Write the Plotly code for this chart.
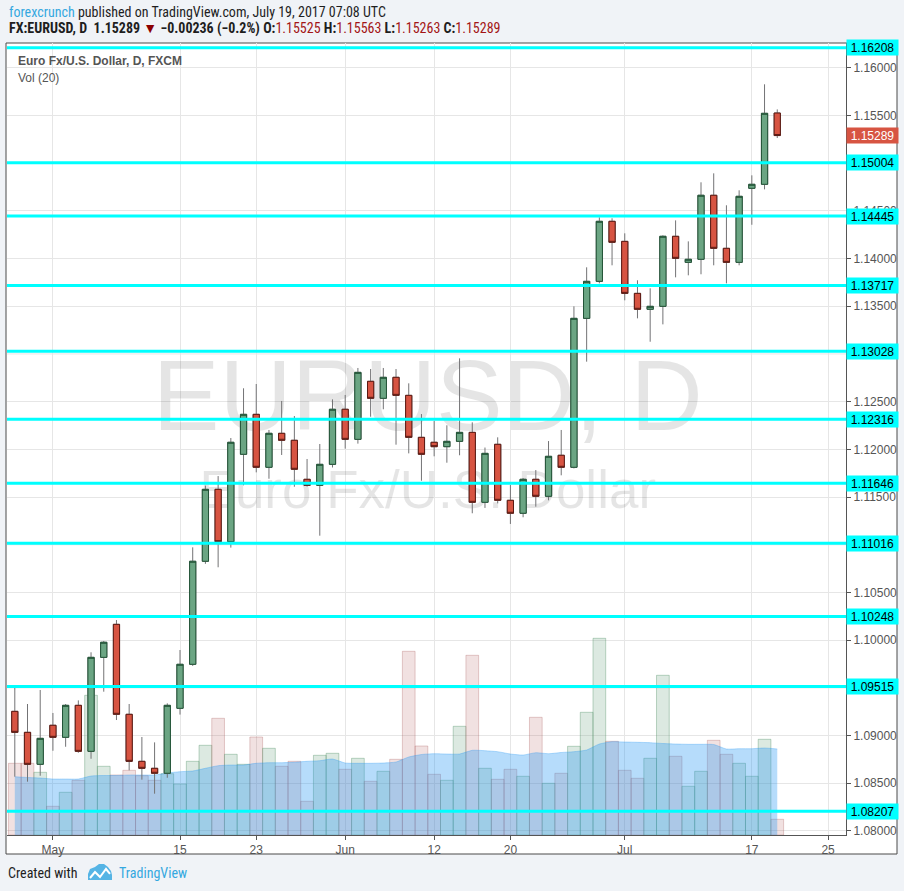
import plotly.graph_objects as go

# ---------------- data ----------------
dates = [
    "2017-04-26", "2017-04-27", "2017-04-28",
    "2017-05-01", "2017-05-02", "2017-05-03", "2017-05-04", "2017-05-05",
    "2017-05-08", "2017-05-09", "2017-05-10", "2017-05-11", "2017-05-12",
    "2017-05-15", "2017-05-16", "2017-05-17", "2017-05-18", "2017-05-19",
    "2017-05-22", "2017-05-23", "2017-05-24", "2017-05-25", "2017-05-26",
    "2017-05-29", "2017-05-30", "2017-05-31", "2017-06-01", "2017-06-02",
    "2017-06-05", "2017-06-06", "2017-06-07", "2017-06-08", "2017-06-09",
    "2017-06-12", "2017-06-13", "2017-06-14", "2017-06-15", "2017-06-16",
    "2017-06-19", "2017-06-20", "2017-06-21", "2017-06-22", "2017-06-23",
    "2017-06-26", "2017-06-27", "2017-06-28", "2017-06-29", "2017-06-30",
    "2017-07-03", "2017-07-04", "2017-07-05", "2017-07-06", "2017-07-07",
    "2017-07-10", "2017-07-11", "2017-07-12", "2017-07-13", "2017-07-14",
    "2017-07-17", "2017-07-18", "2017-07-19",
]
opens = [
    1.09254, 1.09034, 1.08699,
    1.09108, 1.08982, 1.09317, 1.08835, 1.09820,
    1.10166, 1.09223, 1.08730, 1.08657, 1.08605,
    1.09286, 1.09747, 1.10827, 1.11581, 1.11032,
    1.11948, 1.12367, 1.11812, 1.12168, 1.12095,
    1.11686, 1.11623, 1.11843, 1.12420, 1.12105,
    1.12713, 1.12535, 1.12755, 1.12566, 1.12126,
    1.12074, 1.12028, 1.12084, 1.12178, 1.11445,
    1.12053, 1.11466, 1.11330, 1.11686, 1.11508,
    1.11938, 1.11812, 1.13373, 1.13761, 1.14390,
    1.14180, 1.13635, 1.13468, 1.13499, 1.14233,
    1.13960, 1.13992, 1.14663, 1.14107, 1.13960,
    1.14736, 1.14778, 1.15525,
]
highs = [
    1.09502, 1.09331, 1.09478,
    1.09237, 1.09331, 1.09369, 1.09873, 1.09992,
    1.10211, 1.09331, 1.08985, 1.08929, 1.09338,
    1.09897, 1.10973, 1.11620, 1.11720, 1.12119,
    1.12640, 1.12685, 1.12203, 1.12507, 1.12349,
    1.11899, 1.12056, 1.12524, 1.12570, 1.12853,
    1.12842, 1.12853, 1.12842, 1.12692, 1.12370,
    1.12297, 1.12252, 1.12954, 1.12283, 1.12019,
    1.12126, 1.11626, 1.11699, 1.11783, 1.12087,
    1.12203, 1.13499, 1.13908, 1.14432, 1.14422,
    1.14264, 1.13772, 1.13688, 1.14243, 1.14400,
    1.14180, 1.14799, 1.14893, 1.14558, 1.14715,
    1.14872, 1.15826, 1.15563,
]
lows = [
    1.08569, 1.08517, 1.08579,
    1.08841, 1.08883, 1.08820, 1.08757, 1.09460,
    1.09163, 1.08636, 1.08538, 1.08391, 1.08558,
    1.09220, 1.09730, 1.10800, 1.10764, 1.10970,
    1.11623, 1.11759, 1.11692, 1.11941, 1.11608,
    1.11610, 1.11095, 1.11810, 1.12007, 1.12060,
    1.12342, 1.12420, 1.12049, 1.11958, 1.11671,
    1.11927, 1.11860, 1.11938, 1.11330, 1.11386,
    1.11434, 1.11218, 1.11288, 1.11399, 1.11466,
    1.11728, 1.11800, 1.12919, 1.13740, 1.13929,
    1.13562, 1.13373, 1.13128, 1.13310, 1.13803,
    1.13824, 1.13835, 1.13929, 1.13740, 1.13929,
    1.14354, 1.14725, 1.15263,
]
closes = [
    1.09034, 1.08699, 1.08971,
    1.08982, 1.09317, 1.08835, 1.09820, 1.09978,
    1.09223, 1.08730, 1.08657, 1.08605, 1.09317,
    1.09747, 1.10827, 1.11581, 1.11032, 1.12074,
    1.12367, 1.11812, 1.12168, 1.12095, 1.11791,
    1.11623, 1.11843, 1.12420, 1.12105, 1.12807,
    1.12535, 1.12755, 1.12566, 1.12126, 1.11948,
    1.12028, 1.12084, 1.12178, 1.11445, 1.11958,
    1.11466, 1.11330, 1.11686, 1.11508, 1.11927,
    1.11812, 1.13373, 1.13761, 1.14390, 1.14170,
    1.13635, 1.13468, 1.13499, 1.14233, 1.14002,
    1.13992, 1.14663, 1.14107, 1.13960, 1.14652,
    1.14778, 1.15522, 1.15289,
]
volumes = [
    71700, 71700, 62700, 28700, 42700, 54700, 139700, 68700, 60000, 64700,
    59300, 54700, 61300, 51000, 73700, 89700, 116700, 80700, 70700, 98000,
    86700, 68700, 73700, 33700, 79700, 81700, 65700, 76700, 53700, 63700,
    75700, 183700, 89000, 60700, 54700, 108700, 179700, 66700, 55700, 65700,
    58700, 117700, 51700, 61700, 88700, 122700, 196700, 93700, 64700, 56700,
    76700, 159700, 78700, 48700, 63700, 94700, 80700, 71700, 58700, 95700,
    15700,
]
vol_ma20 = [
    58300, 57500, 57000, 56000, 56000, 56000, 59000, 59500, 59500, 60000,
    60000, 60000, 62000, 63300, 64000, 66700, 69300, 70000, 70000, 71700,
    72300, 72300, 72700, 73700, 74300, 76000, 72000, 71700, 71700, 72000,
    73000, 78000, 80500, 81300, 81000, 81000, 84700, 84300, 83300, 81000,
    80000, 82300, 81300, 82500, 83300, 85000, 91000, 93300, 93000, 92700,
    92300, 91500, 91000, 90700, 90700, 90500, 86000, 86300, 86300, 87000,
    86000,
]
levels = [1.16208, 1.15004, 1.14445, 1.13717, 1.13028, 1.12316,
          1.11646, 1.11016, 1.10248, 1.09515, 1.08207]
last_price = 1.15289
price_ticks = [1.16, 1.155, 1.145, 1.14, 1.135, 1.125, 1.12, 1.115,
               1.105, 1.10, 1.09, 1.085, 1.08]
tick_dates = ["2017-05-01", "2017-05-15", "2017-05-23", "2017-06-01", "2017-06-12",
              "2017-06-20", "2017-07-03", "2017-07-17", "2017-07-25"]
tick_labels = ["May", "15", "23", "Jun", "12", "20", "Jul", "17", "25"]

# ---------------- styling / layout helpers ----------------
W, H = 904, 891
PL, PR, PT, PB = 7, 846, 43, 835          # plot-area pixel box


def px(x):
    return (x - PL) / (PR - PL)


def py(y):
    return (PB - y) / (PB - PT)


FONT = "Liberation Sans, Arial, sans-serif"
HFONT = "Liberation Sans Narrow, Roboto Condensed, Roboto, sans-serif"
UP, UP_LINE = "#6ba583", "#225437"
DN, DN_LINE = "#d75442", "#5b1a13"
WICK = "#737375"
AQUA = "#00ffff"

xs = [d + " 12:00" for d in dates]
up = [c >= o for o, c in zip(opens, closes)]

fig = go.Figure()

# watermark (base subplot, below everything else)
fig.add_trace(go.Scatter(
    x=["2017-06-12 00:00", "2017-06-12 00:00"], y=[py(405), py(495)],
    mode="text", text=["EURUSD, D", "Euro Fx/U.S. Dollar"],
    textfont=dict(size=[100, 53], color="rgba(0,0,0,0.10)", family=FONT),
    textposition="middle center", hoverinfo="skip", xaxis="x", yaxis="y"))

# volume bars
fig.add_trace(go.Bar(
    x=xs, y=volumes, width=86400000,
    marker=dict(color=["rgba(107,165,131,0.24)" if u else "rgba(180,90,90,0.18)" for u in up],
                line=dict(color=["rgba(90,150,110,0.40)" if u else "rgba(170,90,90,0.30)" for u in up],
                          width=1)),
    xaxis="x", yaxis="y2", hoverinfo="skip"))

# volume moving average area
fig.add_trace(go.Scatter(
    x=xs, y=vol_ma20, mode="lines", fill="tozeroy",
    fillcolor="rgba(33,150,243,0.33)",
    line=dict(color="rgba(33,150,243,0.30)", width=1, shape="spline", smoothing=0.6),
    xaxis="x", yaxis="y2", hoverinfo="skip"))

# candles: wicks (grey) then bodies with dark borders
fig.add_trace(go.Candlestick(
    x=xs, open=opens, high=highs, low=lows, close=closes,
    increasing=dict(fillcolor=UP, line=dict(color=WICK, width=1)),
    decreasing=dict(fillcolor=DN, line=dict(color=WICK, width=1)),
    whiskerwidth=0, xaxis="x", yaxis="y3", hoverinfo="skip"))
body_hi = [max(o, c) for o, c in zip(opens, closes)]
body_lo = [min(o, c) for o, c in zip(opens, closes)]
fig.add_trace(go.Candlestick(
    x=xs, open=opens, high=body_hi, low=body_lo, close=closes,
    increasing=dict(fillcolor=UP, line=dict(color=UP_LINE, width=1)),
    decreasing=dict(fillcolor=DN, line=dict(color=DN_LINE, width=1)),
    whiskerwidth=0, xaxis="x", yaxis="y3", hoverinfo="skip"))

shapes = [
    dict(type="rect", xref="paper", yref="paper", x0=px(6), x1=px(897), y0=py(854), y1=py(43),
         fillcolor="white", line=dict(color="#4a4a4a", width=1), layer="below"),
]
# grid lines at hidden price levels (their labels sit behind the level tags)
for g in [1.15, 1.13, 1.11, 1.095]:
    shapes.append(dict(type="line", xref="paper", yref="y3", x0=0, x1=1, y0=g, y1=g,
                       line=dict(color="#e6e6e6", width=1), layer="below"))
for lv in levels:
    shapes.append(dict(type="line", xref="paper", yref="y3", x0=0, x1=1, y0=lv, y1=lv,
                       line=dict(color=AQUA, width=3), layer="above"))


def path_from(points, close=True):
    s = "M " + " L ".join(f"{px(a):.5f},{py(b):.5f}" for a, b in points)
    return s + (" Z" if close else "")


# TradingView logo (approximation)
shapes.append(dict(type="path", xref="paper", yref="paper",
                   path=path_from([(88, 880), (88, 874), (90, 869), (95, 867), (99, 864), (104, 864),
                                   (108, 867), (111, 871), (112, 875), (112, 880)]),
                   fillcolor="#55b4e5", line=dict(width=0), layer="above"))
shapes.append(dict(type="path", xref="paper", yref="paper",
                   path=path_from([(90, 878), (95, 872), (100, 877), (106, 869), (110, 874)], close=False),
                   line=dict(color="white", width=2), layer="above"))

annotations = []
RED = "#a31515"
annotations.append(dict(
    xref="paper", yref="paper", x=px(7), y=py(12), xanchor="left", yanchor="middle",
    showarrow=False, font=dict(family=HFONT, size=14, color="#1e1e1e"),
    text='<span style="color:#35a8e0">forexcrunch</span> published on TradingView.com, July 19, 2017 07:08 UTC'))
annotations.append(dict(
    xref="paper", yref="paper", x=px(7), y=py(29), xanchor="left", yanchor="middle",
    showarrow=False, font=dict(family=HFONT, size=14, color="#1e1e1e"),
    text=('<b>FX:EURUSD, D  1.15289</b> <span style="color:#8b0000">▼</span><b> −0.00236 (−0.2%) '
          f'O:</b><span style="color:{RED}">1.15525</span> '
          f'<b>H:</b><span style="color:{RED}">1.15563</span> '
          f'<b>L:</b><span style="color:{RED}">1.15263</span> '
          f'<b>C:</b><span style="color:{RED}">1.15289</span>')))
annotations.append(dict(
    xref="paper", yref="paper", x=px(16), y=py(61), xanchor="left", yanchor="middle",
    showarrow=False, font=dict(family=FONT, size=12, color="#555555", weight=600),
    text="Euro Fx/U.S. Dollar, D, FXCM"))
annotations.append(dict(
    xref="paper", yref="paper", x=px(16), y=py(78), xanchor="left", yanchor="middle",
    showarrow=False, font=dict(family=FONT, size=12, color="#555555"),
    text="Vol (20)"))
for lv in levels:
    annotations.append(dict(
        xref="paper", yref="y3", x=1, y=lv, xanchor="left", yanchor="middle",
        showarrow=False, bgcolor=AQUA, width=51, height=15, borderpad=0,
        font=dict(family=FONT, size=12, color="#000000"), text=f"{lv:.5f}"))
annotations.append(dict(
    xref="paper", yref="y3", x=1, y=last_price, xanchor="left", yanchor="middle",
    showarrow=False, bgcolor=DN, width=51, height=15, borderpad=0,
    font=dict(family=FONT, size=12, color="#ffffff"), text=f"{last_price:.5f}"))
annotations.append(dict(
    xref="paper", yref="paper", x=px(6), y=py(873), xanchor="left", yanchor="middle",
    showarrow=False, font=dict(family=HFONT, size=14, color="#1e1e1e"), text="Created with"))
annotations.append(dict(
    xref="paper", yref="paper", x=px(117), y=py(873), xanchor="left", yanchor="middle",
    showarrow=False, font=dict(family=HFONT, size=14, color="#35a8e0"), text="TradingView"))

fig.update_layout(
    width=W, height=H,
    margin=dict(l=PL, r=W - PR, t=PT, b=H - PB),
    paper_bgcolor="#f0f3f7", plot_bgcolor="white",
    showlegend=False, hovermode=False,
    xaxis=dict(type="date", range=["2017-04-25 21:16", "2017-07-26 21:50"],
               rangebreaks=[dict(bounds=["sat", "mon"])],
               rangeslider=dict(visible=False),
               tickvals=[d + " 12:00" for d in tick_dates], ticktext=tick_labels,
               ticks="outside", ticklen=4, tickcolor="#555555",
               showline=True, linecolor="#555555", linewidth=1,
               showgrid=True, gridcolor="#e6e6e6", gridwidth=1, zeroline=False,
               tickfont=dict(family=FONT, size=12, color="#555555"), fixedrange=True),
    yaxis=dict(visible=False, range=[0, 1], fixedrange=True),
    yaxis2=dict(overlaying="y", visible=False, range=[0, 792000], fixedrange=True),
    yaxis3=dict(overlaying="y", side="right", anchor="x",
                range=[1.07958, 1.16259], tickvals=price_ticks, tickformat=".5f",
                ticks="outside", ticklen=4, tickcolor="#555555",
                showline=True, linecolor="#555555", linewidth=1,
                showgrid=True, gridcolor="#e6e6e6", gridwidth=1, zeroline=False,
                tickfont=dict(family=FONT, size=12, color="#555555"), fixedrange=True),
    shapes=shapes, annotations=annotations,
)

fig.write_html("out.html", config={"displayModeBar": False, "staticPlot": True},
               post_script="document.body.style.margin='0px';document.body.style.overflow='hidden';")
